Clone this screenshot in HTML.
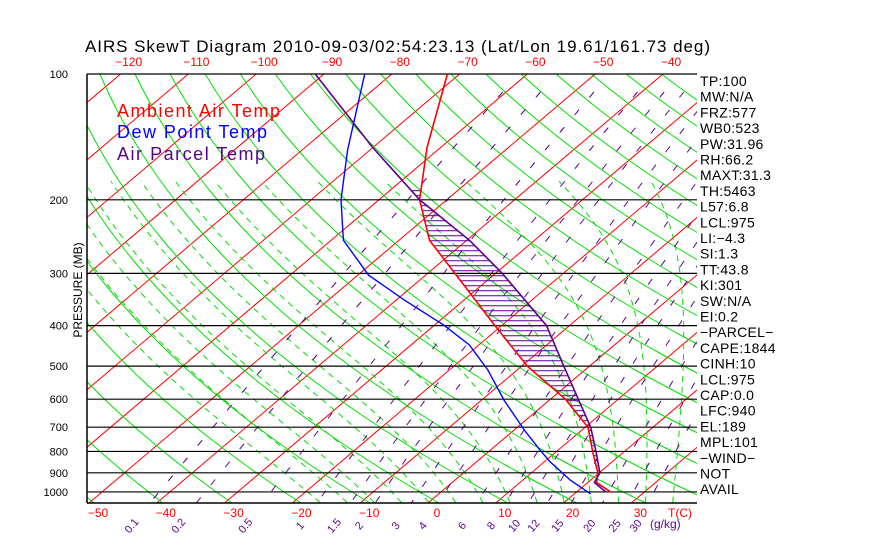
<!DOCTYPE html>
<html><head><meta charset="utf-8"><style>
body{margin:0;background:#fff;}
svg{display:block;font-family:"Liberation Sans",sans-serif;}
</style></head><body>
<svg id="c" width="870" height="560" xmlns="http://www.w3.org/2000/svg">
<defs><clipPath id="cp"><rect x="87" y="74" width="610" height="429"/></clipPath></defs>
<text x="85" y="52" font-size="17" fill="#000" textLength="625" lengthAdjust="spacing">AIRS SkewT Diagram 2010-09-03/02:54:23.13 (Lat/Lon 19.61/161.73 deg)</text>
<g id="grid" clip-path="url(#cp)"></g>
<g id="frame"></g>
<g id="labels"></g>
<g id="series" clip-path="url(#cp)"></g>
<text x="117" y="117" font-size="18" fill="#ff0000" textLength="163" lengthAdjust="spacing">Ambient Air Temp</text>
<text x="117" y="138" font-size="18" fill="#0000ff" textLength="150" lengthAdjust="spacing">Dew Point Temp</text>
<text x="117" y="160" font-size="18" fill="#5a0090" textLength="148" lengthAdjust="spacing">Air Parcel Temp</text>
<text transform="translate(82,290) rotate(-90)" text-anchor="middle" font-size="12">PRESSURE (MB)</text>
<g id="side"></g>
</svg>
<script>
const pressures=[1000,950,900,800,700,600,500,400,300,250,200,150,100];
const tempC=[25.0,21.3,19.8,15.3,10.4,2.2,-9.2,-21.0,-36.0,-45.5,-54.0,-62.0,-71.8];
const parcelC=[24.3,21.0,20.1,15.8,10.8,4.1,-3.8,-13.4,-29.0,-39.6,-54.0,-70.0,-91.3];
const dewP=[1011,937,848,794,711,603,511,445,399,347,303,250,200,152,100];
const dewC=[22.4,17.0,10.9,7.3,1.5,-6.7,-14.3,-21.4,-28.6,-38.9,-48.4,-58.2,-65.6,-73.3,-84.0];
const pLevels=[100,200,300,400,500,600,700,800,900,1000];
const topTicks=[-120,-110,-100,-90,-80,-70,-60,-50,-40];
const botTicks=[-50,-40,-30,-20,-10,0,10,20,30];
const mixRatios=[0.1,0.2,0.5,1,1.5,2,3,4,6,8,10,12,15,20,25,30];
const sideText=["TP:100","MW:N/A","FRZ:577","WB0:523","PW:31.96","RH:66.2","MAXT:31.3","TH:5463","L57:6.8","LCL:975","LI:\u22124.3","SI:1.3","TT:43.8","KI:301","SW:N/A","EI:0.2","\u2212PARCEL\u2212","CAPE:1844","CINH:10","LCL:975","CAP:0.0","LFC:940","EL:189","MPL:101","\u2212WIND\u2212","NOT","AVAIL"];

const NS="http://www.w3.org/2000/svg";
const Y0=74,K=181.5,X0=428,SC=6.78,SK=1.18,YB=503;
function yP(p){return Y0+K*Math.log(p/100);}
function pY(y){return 100*Math.exp((y-Y0)/K);}
function xTP(t,p){return X0+SC*t+SK*(YB-yP(p));}
function mk(par,tag,a){const e=document.createElementNS(NS,tag);for(const k in a)e.setAttribute(k,a[k]);par.appendChild(e);return e;}
const grid=document.getElementById('grid'),frame=document.getElementById('frame'),labels=document.getElementById('labels'),series=document.getElementById('series'),side=document.getElementById('side');
function poly(par,pts,st,dash){const e=mk(par,'polyline',{points:pts.map(q=>q[0].toFixed(1)+','+q[1].toFixed(1)).join(' '),fill:'none',stroke:st.c,'stroke-width':st.w});if(dash)e.setAttribute('stroke-dasharray',dash);return e;}
const pgrid=[];for(let y=60;y<=520;y+=4)pgrid.push(pY(y));
for(let t=-180;t<=50;t+=10){const e=poly(grid,[[xTP(t,pY(520)),520],[xTP(t,pY(60)),60]],{c:'#ff0000',w:1});
}
for(let th=200;th<=520;th+=10){const pts=pgrid.map(p=>[xTP(th*Math.pow(p/1000,0.286)-273.15,p),yP(p)]);const e=poly(grid,pts,{c:'#00dd00',w:1});
}
function es(t){return 6.112*Math.exp(17.67*t/(t+243.5));}
for(let tw=-16;tw<=36;tw+=4){let T=tw+273.15,lp=Math.log(1060),pts=[];const d=-0.01;
while(lp>Math.log(180)){const p=Math.exp(lp);pts.push([xTP(T-273.15,p),yP(p)]);const e=es(T-273.15),rs=0.622*e/(p-e);
const dT=(287*T+2.5e6*rs)/(1004+2.5e6*2.5e6*rs*0.622/(287*T*T));T+=dT*d;lp+=d;}
const e=poly(grid,pts,{c:'#00dd00',w:1},'6,5');
}
function tdW(w,p){const e=w*p/(622+w),l=Math.log(e/6.112);return 243.5*l/(17.67-l);}
mixRatios.forEach(w=>{const pts=pgrid.filter(p=>p>=110).map(p=>[xTP(tdW(w,p),p),yP(p)]);const e=poly(grid,pts,{c:'#5a0090',w:1},'7,16');

const yl=522,pl=pY(yl),xl=xTP(tdW(w,pl),pl);const tx=mk(labels,'text',{transform:`translate(${xl.toFixed(1)},${yl+6}) rotate(-50)`,'font-size':11,fill:'#5a0090','text-anchor':'middle'});tx.textContent=String(w);
});
{const t=mk(labels,'text',{x:650,y:528,'font-size':12,fill:'#5a0090'});t.textContent='(g/kg)';}
pLevels.forEach(p=>{const y=yP(p);const l=mk(frame,'line',{x1:87,x2:697,y1:y,y2:y,stroke:'#000','stroke-width':1.2});

const t=mk(labels,'text',{x:68,y:y+4,'font-size':11,'text-anchor':'end'});t.textContent=String(p);
});
mk(frame,'line',{x1:87,x2:697,y1:YB,y2:YB,stroke:'#000','stroke-width':1.5});
mk(frame,'line',{x1:87,x2:87,y1:74,y2:YB,stroke:'#000','stroke-width':1.5});
topTicks.forEach(t=>{const x=xTP(t,100)+8;const e=mk(labels,'text',{x:x,y:66,'font-size':12,fill:'#ff0000','text-anchor':'middle'});e.textContent=String(t).replace('-','\u2212');
});
botTicks.forEach(t=>{const x=xTP(t,pY(YB))+9;const e=mk(labels,'text',{x:x,y:517,'font-size':12,fill:'#ff0000','text-anchor':'middle'});e.textContent=String(t).replace('-','\u2212');
});
{const e=mk(labels,'text',{x:668,y:517,'font-size':12,fill:'#ff0000'});e.textContent='T(C)';}
function interp(P,V,p){for(let i=0;i<P.length-1;i++){const a=P[i],b=P[i+1];if((p<=a&&p>=b)||(p>=a&&p<=b)){const f=(Math.log(p)-Math.log(a))/(Math.log(b)-Math.log(a));return V[i]+f*(V[i+1]-V[i]);}}return null;}
for(let y=yP(940);y>=yP(189);y-=5){const p=pY(y);const a=interp(pressures,tempC,p),b=interp(pressures,parcelC,p);
const e=mk(series,'line',{x1:xTP(a,p),x2:xTP(b,p),y1:y,y2:y,stroke:'#5a0090','stroke-width':1});
}
{const e=poly(series,pressures.map((p,i)=>[xTP(tempC[i],p),yP(p)]),{c:'#ff0000',w:1.6});}
{const e=poly(series,dewP.map((p,i)=>[xTP(dewC[i],p),yP(p)]),{c:'#0000ff',w:1.4});}
{const e=poly(series,pressures.map((p,i)=>[xTP(parcelC[i],p),yP(p)]),{c:'#5a0090',w:1.6});}
sideText.forEach((s,i)=>{const e=mk(side,'text',{x:700,y:86+i*15.7,'font-size':14,'letter-spacing':'0.3'});e.textContent=s;
});
</script>
</body></html>
